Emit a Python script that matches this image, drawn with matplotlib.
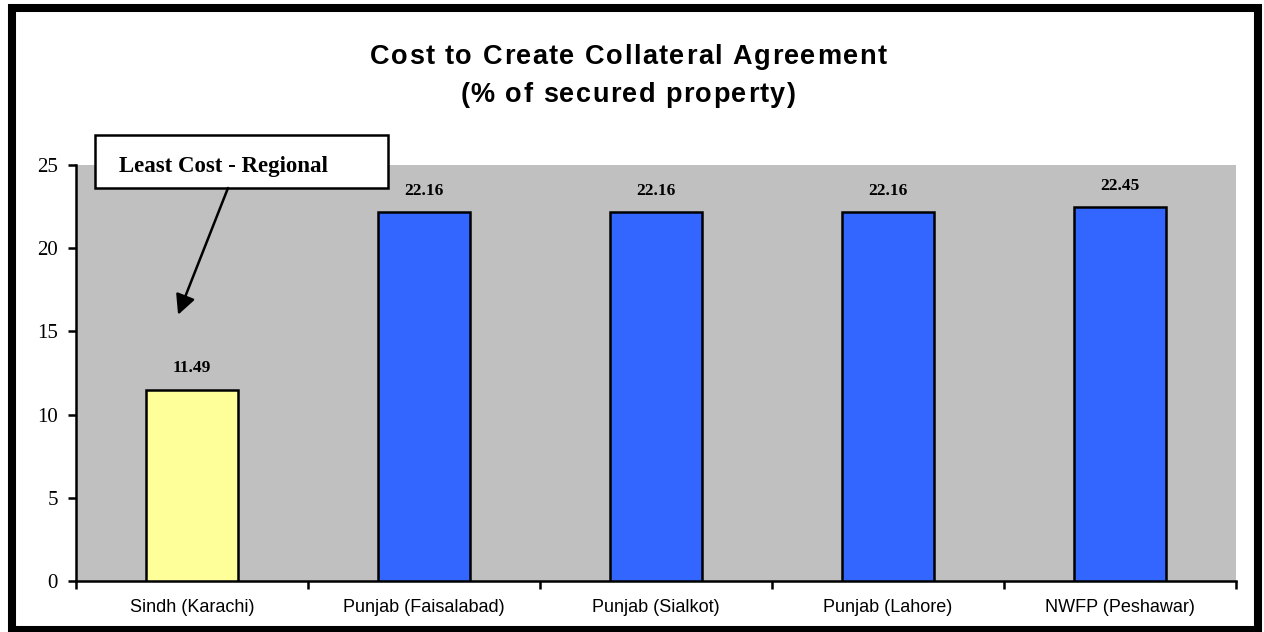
import matplotlib
matplotlib.use("Agg")
import matplotlib.pyplot as plt
from matplotlib.patches import Rectangle
from matplotlib.font_manager import FontProperties, findfont
from matplotlib.ft2font import FT2Font

# Data
regions = ["Sindh (Karachi)", "Punjab (Faisalabad)", "Punjab (Sialkot)",
           "Punjab (Lahore)", "NWFP (Peshawar)"]
cost_pct = [11.49, 22.16, 22.16, 22.16, 22.45]
bar_colors = ["#FFFF99", "#3366FF", "#3366FF", "#3366FF", "#3366FF"]
y_ticks = [0, 5, 10, 15, 20, 25]
title_lines = ["Cost to Create Collateral Agreement", "(% of secured property)"]
callout_text = "Least Cost - Regional"

W, H, DPI = 1264, 632, 100
fig = plt.figure(figsize=(W / DPI, H / DPI), dpi=DPI, facecolor="white")


def tracked_text(fig, cx_px, base_px, s, size, tracking_px, family, weight):
    """Draw a centred string with extra spacing between characters."""
    fp = FontProperties(family=family, weight=weight, size=size)
    font = FT2Font(findfont(fp))
    font.set_size(size, DPI)
    advances = [font.load_char(ord(c)).linearHoriAdvance / 65536 for c in s]
    total = sum(advances) + tracking_px * (len(s) - 1)
    x = cx_px - total / 2
    for c, adv in zip(s, advances):
        if c != " ":
            fig.text(x / W, 1 - base_px / H, c, ha="left", va="baseline",
                     fontproperties=fp)
        x += adv + tracking_px


# Plot area
ax = fig.add_axes([76 / W, (H - 581) / H, 1160 / W, 416 / H])
ax.set_facecolor("#C0C0C0")

x = list(range(len(regions)))
ax.bar(x, cost_pct, width=0.4, color=bar_colors, edgecolor="black",
       linewidth=1.8, zorder=3)

# Value labels
for xi, v in zip(x, cost_pct):
    ax.annotate(f"{v:.2f}", xy=(xi, v), xytext=(0, 15.5), textcoords="offset points",
                ha="center", va="center", fontsize=12.5, fontweight="bold",
                family="Liberation Serif")

ax.set_xlim(-0.5, len(regions) - 0.5)
ax.set_ylim(0, 25)
ax.set_yticks(y_ticks)
ax.set_yticklabels([str(t) for t in y_ticks], family="Liberation Serif", fontsize=15)

ax.set_xticks(x)
ax.set_xticklabels(regions, family="Liberation Sans", fontsize=13)
ax.set_xticks([i - 0.5 for i in range(len(regions) + 1)], minor=True)
ax.tick_params(axis="x", which="major", length=0, pad=13)
ax.tick_params(axis="x", which="minor", length=6, width=1.8, direction="out")
ax.tick_params(axis="y", length=6, width=1.8, direction="out", pad=7)

for side in ("top", "right"):
    ax.spines[side].set_visible(False)
for side in ("left", "bottom"):
    ax.spines[side].set_linewidth(1.8)

# Title (baselines)
tracked_text(fig, 628, 63.5, title_lines[0], 19.5, 1.5, "Liberation Sans", "bold")
tracked_text(fig, 628, 102, title_lines[1], 19.5, 1.4, "Liberation Sans", "bold")

# Callout box with arrow
bx0, bx1 = (95 - 76) / 1160, (388 - 76) / 1160
by0, by1 = (581 - 188) / 416, (581 - 135) / 416
ax.add_patch(Rectangle((bx0, by0), bx1 - bx0, by1 - by0, transform=ax.transAxes,
                       facecolor="white", edgecolor="black", linewidth=1.8,
                       clip_on=False, zorder=5))
ax.text((223.5 - 76) / 1160, (581 - 166) / 416, callout_text, transform=ax.transAxes,
        ha="center", va="center", fontsize=16.5, fontweight="bold",
        family="Liberation Serif", zorder=6)
ax.annotate("", xy=(-0.06, 16), xycoords="data",
            xytext=((228 - 76) / 1160, by0), textcoords="axes fraction",
            arrowprops=dict(arrowstyle="-|>", mutation_scale=30, lw=1.8,
                            color="black", shrinkA=0, shrinkB=0),
            zorder=6, annotation_clip=False)

# Outer frame
fig.add_artist(Rectangle((11.5 / W, 2 / H), 1246.5 / W, 622.5 / H,
                         transform=fig.transFigure, facecolor="none",
                         edgecolor="black", linewidth=5.8))

fig.savefig("out.png", dpi=DPI, facecolor="white")
